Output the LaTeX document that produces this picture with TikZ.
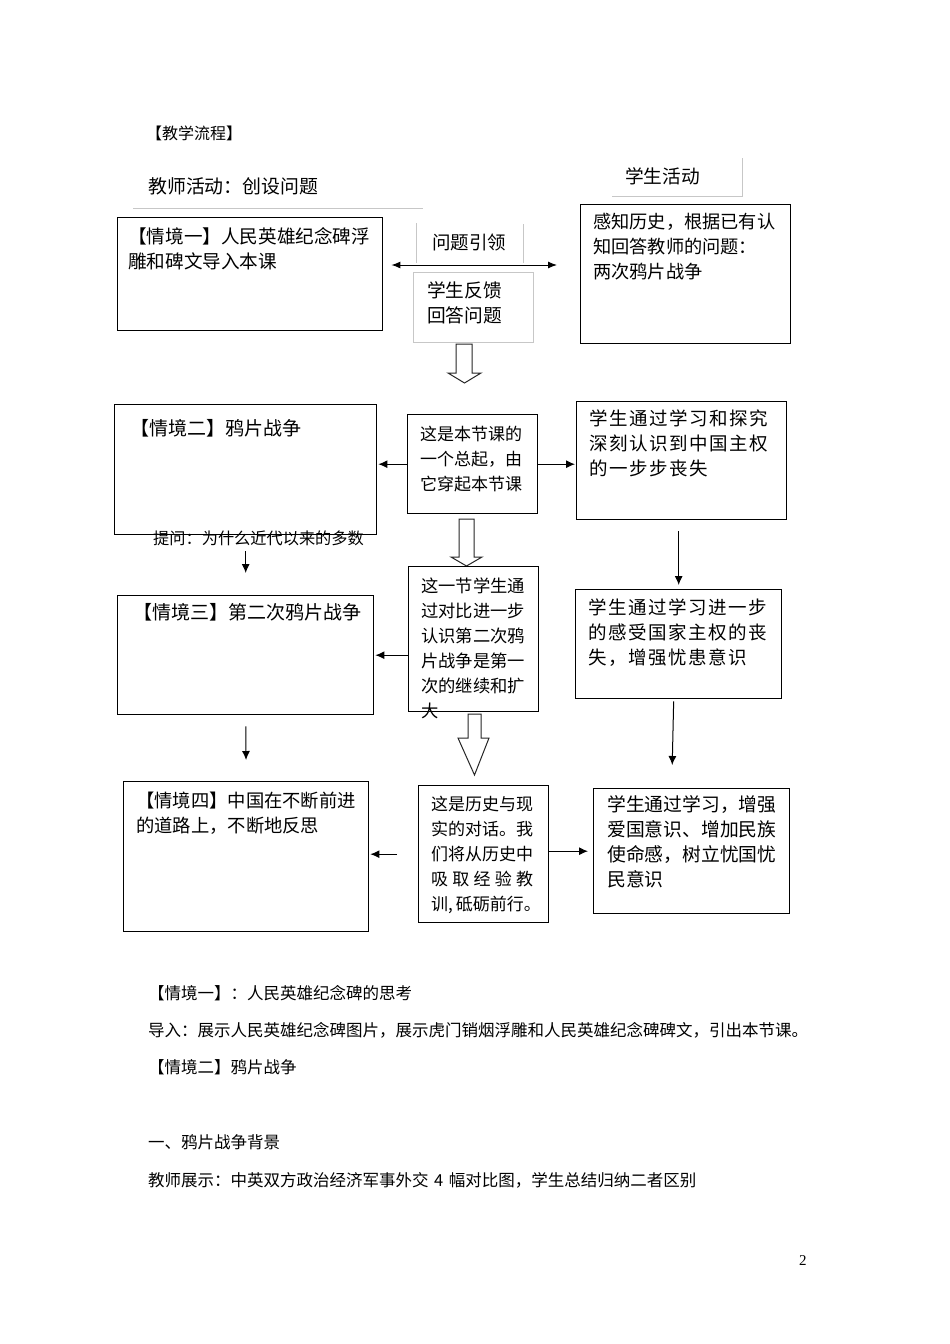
\documentclass[tikz,border=0pt]{standalone}
\usepackage{fontspec}
\setmainfont{Liberation Serif}
\newfontfamily\cjk{Noto Sans CJK SC}
\newfontfamily\cjkwide[LetterSpace=8]{Noto Sans CJK SC}
\usetikzlibrary{arrows.meta}

\begin{document}
\begin{tikzpicture}[x=1pt, y=-1pt,
  box/.style={draw, line width=1.4pt, anchor=north west, inner sep=0},
  faint/.style={draw=black!22, line width=.8pt},
  txt/.style={anchor=base west, inner sep=0, align=left, text width=#1},
  txt/.default=300,
  fs/.style={font=\cjk\fontsize{#1}{25}\selectfont},
  wide/.style={font=\cjkwide\fontsize{18.5}{25}\selectfont},
  arr/.style={line width=1pt, -{Latex[length=9pt,width=8pt]}},
  both/.style={line width=1pt, {Latex[length=9pt,width=7pt]}-{Latex[length=9pt,width=7pt]}},
  hollow/.style={draw=black!85, line width=1pt, fill=white}]
\fill[white] (0,0) rectangle (950,1344);

% headings
\node[txt, fs=16] (flow) at (146,139) {【教学流程】};
\node[txt, fs=18.9] (tea) at (148,193) {教师活动：创设问题};
\draw[faint] (133,208) -- (423,208);
\node[txt, fs=18.7] (stu) at (625,183) {学生活动};
\draw[faint] (612,196) -- (742,196) -- (742,158);

% row 1
\node[box, minimum width=265, minimum height=113] (s1) at (117,217) {};
\node[txt, fs=18.6] (s1t) at (128,243) {【情境一】人民英雄纪念碑浮\\雕和碑文导入本课};
\node[box, minimum width=210, minimum height=139] (r1) at (580,204) {};
\node[txt, fs=18.2] (r1t) at (593,228) {感知历史，根据已有认\\知回答教师的问题：\\两次鸦片战争};
\node[txt, fs=18.5] (lead) at (432,249) {问题引领};
\draw[faint] (416,223) -- (416,263) (523,224) -- (523,263);
\coordinate (mid) at (470,265);
\draw[both, shorten <=8pt, shorten >=23pt] (s1.east |- mid) -- (r1.west |- mid);
\node[box, faint, minimum width=120, minimum height=70] (fb) at (413,272) {};
\node[txt, fs=18.7] (fbt) at (427,297) {学生反馈\\回答问题};
\draw[hollow] (456,344) -- (472,344) -- (472,373) -- (481,373) -- (464.5,383) -- (448,373) -- (456,373) -- cycle;

% row 2
\node[box, minimum width=262, minimum height=130] (s2) at (114,404) {};
\node[txt, fs=19] (s2t) at (130,435) {【情境二】鸦片战争};
\node[txt, fs=16.2] (ask) at (153,544) {提问：为什么近代以来的多数};
\node[box, minimum width=130, minimum height=99] (m1) at (407,414) {};
\node[txt, fs=17] (m1t) at (420,440.5) {这是本节课的\\一个总起，由\\它穿起本节课};
\node[box, minimum width=210, minimum height=118] (r2) at (576,401) {};
\node[txt, wide] (r2t) at (589,425.5) {学生通过学习和探究\\深刻认识到中国主权\\的一步步丧失};
\draw[arr, shorten >=1pt] (m1.west) -- (m1.west -| s2.east);
\draw[arr, shorten >=1pt] (m1.east) -- (m1.east -| r2.west);
\draw[hollow] (459,519) -- (474,519) -- (474,557) -- (482,557) -- (466.5,566) -- (451,557) -- (459,557) -- cycle;

% row 3
\node[box, minimum width=256, minimum height=119] (s3) at (117,595) {};
\node[txt, fs=19] (s3t) at (133,619) {【情境三】第二次鸦片战争};
\node[box, minimum width=130, minimum height=145] (m2) at (408,566) {};
\node[txt, fs=17.3] (m2t) at (421,592.5) {这一节学生通\\过对比进一步\\认识第二次鸦\\片战争是第一\\次的继续和扩\\大};
\node[box, minimum width=206, minimum height=109] (r3) at (575,589) {};
\node[txt, wide] (r3t) at (588,614.6) {学生通过学习进一步\\的感受国家主权的丧\\失，增强忧患意识};
\draw[arr, shorten <=16pt, shorten >=22pt] (s2.south) -- (s3.north);
\draw[arr, shorten >=1pt] (s3.east -| m2.west) -- (s3.east);
\draw[arr, shorten <=11pt, shorten >=4pt] (r2.south -| r3.north) -- (r3.north);
\draw[hollow] (468,714) -- (481,714) -- (481,738) -- (489,738) -- (474.5,775) -- (458,738) -- (468,738) -- cycle;

% row 4
\node[box, minimum width=245, minimum height=150] (s4) at (123,781) {};
\node[txt, fs=18.3] (s4t) at (136,807) {【情境四】中国在不断前进\\的道路上，不断地反思};
\node[box, minimum width=130, minimum height=137] (m3) at (418,785) {};
\node[txt=102, fs=17] (m3t) at (431,810.5) {这是历史与现\\实的对话。我\\们将从历史中\\吸\hfill{}取\hfill{}经\hfill{}验\hfill{}教\\训,\,{}砥砺前行。};
\node[box, minimum width=196, minimum height=125] (r4) at (593,788) {};
\node[txt, fs=18.8] (r4t) at (607,811) {学生通过学习，增强\\爱国意识、增加民族\\使命感，树立忧国忧\\民意识};
\draw[arr, shorten <=11pt, shorten >=21pt] (s3.south) -- (s4.north);
\draw[arr, shorten <=21pt, shorten >=1pt] (m3.west) -- (m3.west -| s4.east);
\draw[arr, shorten >=5pt] (m3.east |- r4.west) -- (r4.west);
\draw[arr, shorten <=2pt, shorten >=23pt] ([xshift=-5pt]r3.south) -- ([xshift=-20pt]r4.north);

% text below
\node[txt=700, fs=16.5] (b1) at (148,999) {【情境一】：人民英雄纪念碑的思考};
\node[txt=700, fs=16.5] (b2) at (148,1036) {导入：展示人民英雄纪念碑图片，展示虎门销烟浮雕和人民英雄纪念碑碑文，引出本节课。};
\node[txt=700, fs=16.5] (b3) at (148,1073) {【情境二】鸦片战争};
\node[txt=700, fs=16.5] (b4) at (148,1148) {一、鸦片战争背景};
\node[txt=700, fs=16.5] (b5) at (148,1186) {教师展示：中英双方政治经济军事外交 4 幅对比图，学生总结归纳二者区别};
\node[anchor=base west, inner sep=0, font=\fontsize{15}{18}\selectfont] (pg) at (799,1265) {2};
\end{tikzpicture}
\end{document}
